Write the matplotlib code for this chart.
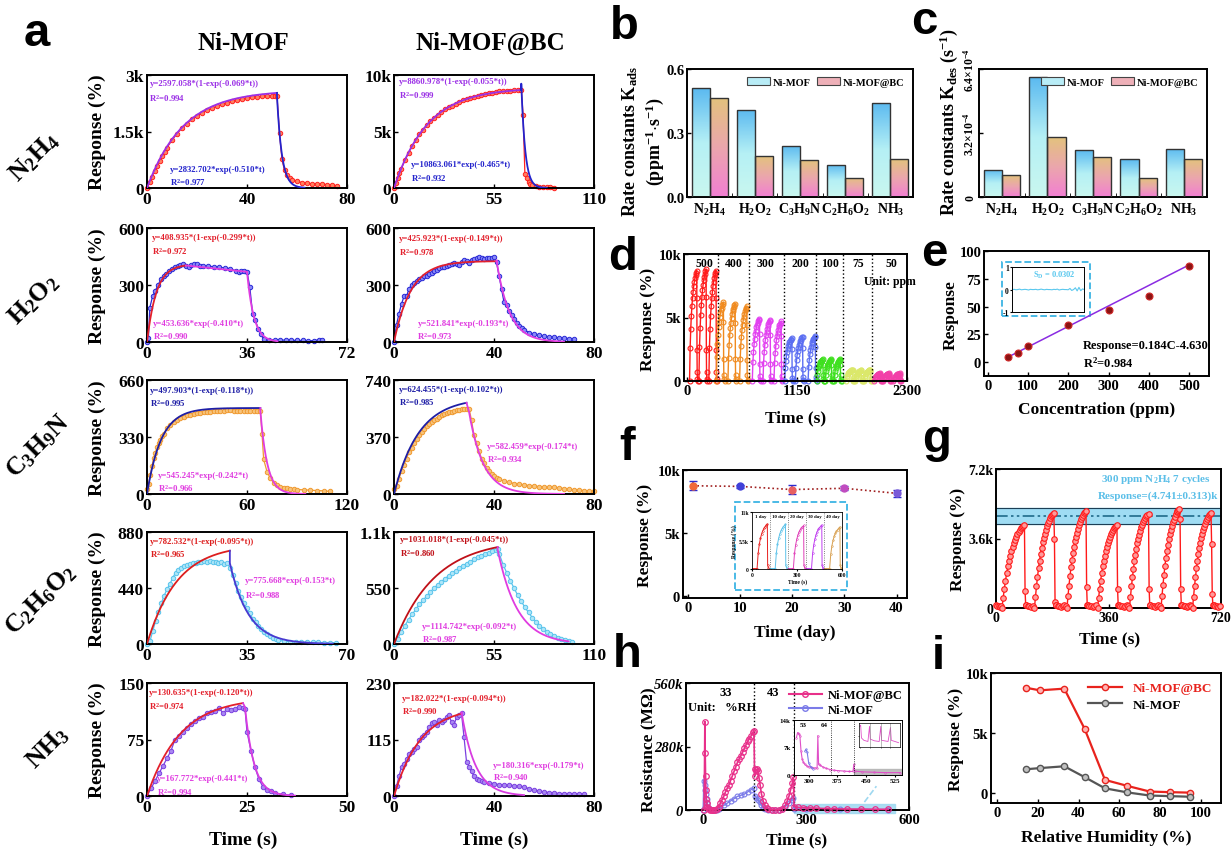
import numpy as np
import matplotlib.pyplot as plt
from matplotlib.patches import Rectangle, Patch
from matplotlib.lines import Line2D
from matplotlib.colors import LinearSegmentedColormap

plt.rcParams['font.family'] = ['Liberation Serif', 'DejaVu Serif']
plt.rcParams['font.weight'] = 'bold'
plt.rcParams['axes.labelweight'] = 'bold'
plt.rcParams['mathtext.fontset'] = 'custom'
plt.rcParams['mathtext.rm'] = 'Liberation Serif:bold'
plt.rcParams['mathtext.it'] = 'Liberation Serif:italic:bold'
plt.rcParams['mathtext.bf'] = 'Liberation Serif:bold'
plt.rcParams['axes.linewidth'] = 1.4

# ---------------- data: panel a (response/recovery kinetics) ----------------
n2h4_mof = [(0,0),(1,150),(2,300),(3,440),(4,590),(5,720),(6,850),(7,960),(8,1070),(10,1270),(12,1440),(14,1590),
            (16,1710),(18,1820),(20,1910),(22,1990),(24,2060),(26,2120),(28,2170),(30,2220),(32,2260),(34,2300),
            (36,2330),(38,2360),(40,2390),(42,2410),(44,2420),(46,2430),(48,2440),(50,2440),(51,2430),(52,2430),
            (53,1450),(54,760),(55,470),(56,340),(57,270),(58,220),(60,175),(62,145),(64,125),(66,112),(68,105),
            (70,98),(72,90),(74,80),(76,60)]
n2h4_bc = [(0,0),(1,450),(2,900),(3,1300),(4,1700),(6,2450),(8,3100),(10,3700),(12,4250),(14,4750),(16,5150),
           (18,5550),(20,5900),(22,6200),(24,6500),(26,6750),(28,6950),(30,7150),(32,7300),(34,7450),(36,7600),
           (38,7750),(40,7850),(42,7950),(44,8050),(46,8150),(48,8250),(50,8300),(52,8400),(54,8450),(56,8500),
           (58,8550),(60,8580),(62,8600),(64,8620),(66,8650),(68,8660),(70,8670),(71,6500),(72,1200),(73,900),
           (74,500),(75,350),(76,260),(78,180),(80,130),(82,100),(84,80),(86,60),(88,40)]
h2o2_mof = [(0,0),(0.5,20),(1,180),(2,240),(3,270),(4,300),(5,330),(6,345),(7,360),(8,375),(9,385),(10,395),
            (11,400),(12,405),(13,408),(14,400),(15,395),(16,405),(17,410),(18,408),(19,402),(20,400),(22,398),
            (24,397),(26,393),(28,390),(30,385),(32,375),(33,368),(34,372),(35,375),(36,370),(37,290),(38,150),
            (39,115),(40,70),(41,40),(42,15),(44,12),(46,12),(48,10),(50,10),(52,9),(54,8),(56,8),(58,7),(60,7),
            (62,12),(63,8)]
h2o2_bc = [(0,0),(1,90),(2,150),(3,200),(4,240),(5,240),(6,280),(7,300),(8,310),(9,320),(10,330),(11,335),
           (12,345),(13,350),(14,360),(15,365),(16,375),(17,380),(18,390),(19,395),(20,395),(21,400),(22,405),
           (23,410),(24,415),(25,410),(26,405),(27,420),(28,430),(29,425),(30,415),(31,430),(32,435),(33,440),
           (34,445),(35,440),(36,438),(37,440),(38,442),(39,440),(40,450),(41,420),(42,350),(43,280),(44,210),
           (45,195),(46,165),(47,140),(48,120),(49,100),(50,85),(51,75),(52,65),(54,50),(56,40),(58,35),(60,30),
           (62,28),(64,25),(66,22),(68,20),(70,18),(72,18)]
c3h9n_mof = [(0,30),(1,60),(2,110),(3,160),(4,210),(5,240),(6,270),(7,295),(8,315),(9,335),(10,350),(12,380),
             (14,400),(16,415),(18,430),(20,440),(22,448),(24,455),(26,460),(28,465),(30,468),(32,470),(34,472),
             (36,474),(38,476),(40,478),(42,480),(44,482),(46,483),(48,484),(50,484),(52,483),(54,483),(56,482),
             (58,482),(60,481),(62,480),(64,480),(66,478),(68,478),(69,350),(70,200),(72,130),(74,90),(76,65),
             (78,50),(80,42),(82,36),(84,32),(86,30),(88,28),(90,26),(94,24),(98,22),(102,20),(106,18),(110,15)]
c3h9n_bc = [(0,30),(1,50),(2,100),(3,150),(4,190),(5,230),(6,270),(7,300),(8,330),(9,360),(10,380),(11,400),
            (12,420),(13,440),(14,455),(15,470),(16,480),(17,490),(18,500),(19,510),(20,520),(21,525),(22,530),
            (23,535),(24,540),(25,545),(26,548),(27,550),(28,552),(29,555),(30,555),(31,480),(32,380),(33,330),
            (34,280),(35,230),(36,200),(37,170),(38,150),(39,130),(40,115),(41,105),(42,95),(44,85),(46,75),
            (48,68),(50,62),(52,58),(54,55),(56,52),(58,48),(60,45),(62,43),(64,45),(66,40),(68,35),(70,30),
            (72,28),(74,25),(76,22),(78,20),(80,18)]
c2h6o2_mof = [(0,0),(1,20),(2,100),(3,180),(4,250),(5,320),(6,380),(7,430),(8,470),(9,520),(10,560),(11,580),
              (12,600),(13,610),(14,620),(15,630),(16,635),(17,640),(18,645),(19,648),(20,650),(21,648),(22,650),
              (23,645),(24,648),(25,640),(26,645),(27,630),(28,640),(29,600),(30,540),(31,480),(32,420),(33,370),
              (34,320),(35,280),(36,240),(37,200),(38,170),(39,140),(40,115),(41,95),(42,75),(43,60),(44,48),
              (45,38),(46,30),(48,22),(50,18),(52,15),(54,14),(56,13),(58,12),(60,12),(62,11),(64,11),(66,10)]
c2h6o2_bc = [(0,0),(2,50),(4,120),(6,180),(8,240),(10,290),(12,340),(14,390),(16,430),(18,470),(20,510),(22,550),
             (24,580),(26,610),(28,640),(30,670),(32,700),(34,720),(36,745),(38,770),(40,790),(42,810),(44,830),
             (46,850),(48,865),(50,880),(52,895),(54,910),(56,920),(57,930),(58,880),(60,780),(62,700),(64,620),
             (66,550),(68,480),(70,420),(72,360),(74,310),(76,260),(78,220),(80,180),(82,150),(84,120),(86,95),
             (88,75),(90,60),(92,45),(94,35),(96,28),(98,22)]
nh3_mof = [(0,0),(1,10),(2,20),(3,30),(4,40),(5,50),(6,60),(7,75),(8,80),(9,85),(10,90),(11,95),(12,100),(13,103),
           (14,105),(15,110),(16,112),(17,113),(18,117),(19,110),(20,115),(21,114),(22,116),(23,118),(24,117),
           (24.5,116),(25,85),(26,60),(27,38),(28,22),(29,12),(30,8),(31,6),(32,4),(34,2),(36,1)]
nh3_bc = [(0,0),(1,20),(2,40),(3,60),(4,65),(5,75),(6,85),(7,90),(8,95),(9,100),(10,115),(11,120),(12,125),
          (13,130),(14,140),(15,148),(16,150),(17,145),(18,155),(19,150),(20,155),(21,160),(22,165),(23,150),
          (24,145),(25,160),(26,165),(27,168),(28,120),(29,70),(30,60),(31,50),(32,40),(33,35),(34,32),(35,30),
          (36,28),(38,27),(40,25),(42,23),(44,22),(46,22),(48,21),(50,20),(52,18),(54,15),(56,12),(58,10),
          (60,8),(62,7),(64,6),(66,5),(68,5),(70,5),(72,5),(74,4),(76,4)]

# fit parameters printed on the chart: rise (A, k, t_end), decay (B, k, t_start, t_stop, t_shift), R2
a_rise = [(2597.058, 0.069, 52), (8860.978, 0.055, 70), (408.935, 0.299, 14), (425.923, 0.149, 41),
          (497.903, 0.118, 68), (624.455, 0.102, 29), (782.532, 0.095, 29), (1031.018, 0.045, 57),
          (130.635, 0.120, 24), (182.022, 0.094, 27)]
a_decay = [(2832.702, 0.510, 52, 63, 51.7), (10863.061, 0.465, 70, 84, 69.65), (453.636, 0.410, 36, 47, 35.5),
           (521.841, 0.193, 41, 68, 40), (545.245, 0.242, 68, 95, 67.5), (582.459, 0.174, 30, 68, 29.5),
           (775.668, 0.153, 29, 65, 27.7), (1114.742, 0.092, 57, 96, 55), (167.772, 0.441, 24.5, 37, 23.7),
           (180.316, 0.179, 27, 52, 26.7)]
a_r2_rise = ['0.994', '0.999', '0.972', '0.978', '0.995', '0.985', '0.965', '0.860', '0.974', '0.990']
a_r2_decay = ['0.977', '0.932', '0.990', '0.973', '0.966', '0.934', '0.988', '0.987', '0.994', '0.940']
a_xmax = [80, 110, 72, 80, 120, 80, 70, 110, 50, 80]
a_ymax = [3000, 10000, 600, 600, 660, 740, 880, 1100, 150, 230]
a_data = [n2h4_mof, n2h4_bc, h2o2_mof, h2o2_bc, c3h9n_mof, c3h9n_bc, c2h6o2_mof, c2h6o2_bc, nh3_mof, nh3_bc]
a_gas = [r'$\mathrm{N_2H_4}$', r'$\mathrm{H_2O_2}$', r'$\mathrm{C_3H_9N}$', r'$\mathrm{C_2H_6O_2}$', r'$\mathrm{NH_3}$']

# ---------------- data: panels b, c ----------------
kin_labels = [r'$\mathrm{N_2H_4}$', r'$\mathrm{H_2O_2}$', r'$\mathrm{C_3H_9N}$', r'$\mathrm{C_2H_6O_2}$', r'$\mathrm{NH_3}$']
kads_mof = [0.510, 0.408, 0.241, 0.151, 0.441]
kads_bc = [0.464, 0.190, 0.172, 0.090, 0.177]
kdes_mof = [1.37e-4, 5.99e-4, 2.35e-4, 1.89e-4, 2.41e-4]
kdes_bc = [1.09e-4, 2.98e-4, 2.02e-4, 0.93e-4, 1.89e-4]

# ---------------- data: panel d ----------------
d_conc = ['500', '400', '300', '200', '100', '75', '50']
d_conc_t = [178, 482, 821, 1181, 1489, 1793, 2132]
d_bounds = [325, 647, 1007, 1349, 1625, 1933]
d_peak_t = [[98, 196, 300], [377, 500, 622], [755, 867, 982], [1094, 1206, 1339],
            [1419, 1507, 1601], [1730, 1821, 1915], [2020, 2115, 2223]]
d_peak_v = [[8700, 8800, 8700], [6200, 6100, 5900], [4900, 4800, 4700], [3400, 3500, 3550],
            [1700, 1700, 1700], [900, 850, 900], [600, 600, 600]]
d_rise = [75, 75, 75, 75, 65, 65, 65]
d_shape = [0.0, 0.3, 0.47, 0.59, 0.68, 0.75, 0.81, 0.86, 0.9, 0.93, 0.96, 0.98, 1.0]
d_drop = [0.75, 0.28, 0.08, 0.02, 0.0]
d_drop_dt = [1.5, 3, 5, 8, 14]
d_colors = ['#ff1a1a', '#f08a1e', '#e23ff0', '#5b6ef2', '#3fe01f', '#dbe86a', '#f23fa8']

# ---------------- data: panel e ----------------
e_conc = [50, 75, 100, 200, 300, 400, 500]
e_resp = [4.5, 7.8, 14.7, 33.3, 47.0, 59.8, 86.8]
e_noise = [0.0, 0.01, -0.01, 0.0, 0.02, -0.01, 0.0, 0.01, 0.0, -0.02, 0.01, 0.0, 0.0, 0.01, -0.01, 0.0,
           0.02, 0.0, -0.01, 0.01, 0.0, 0.0, -0.01, 0.01, 0.0, 0.02, -0.02, 0.0, 0.01, 0.0, 0.0, -0.01,
           0.05, -0.04, 0.0, 0.08, -0.06, 0.10, -0.05, 0.03, 0.0]

# ---------------- data: panel f ----------------
f_days = [1, 10, 20, 30, 40]
f_resp = [8750, 8700, 8450, 8550, 8150]
f_err = [350, 100, 350, 150, 300]
f_mcolors = ['#f06a3a', '#4040d8', '#e86060', '#c04cc0', '#7a5ad8']
f_in_labels = ['1 day', '10 day', '20 day', '30 day', '40 day']
f_in_colors = ['#e8201e', '#5ec3ea', '#e03fb8', '#c03ef0', '#d8a050']
f_shape = [0.0, 0.35, 0.55, 0.68, 0.78, 0.85, 0.9, 0.94, 0.97, 1.0]

# ---------------- data: panel g ----------------
g_start = [19, 123, 227, 325, 427, 528, 629]
g_peak_t = [91, 185, 288, 387, 488, 587, 688]
g_peak = [4300, 4920, 5000, 4300, 4850, 5150, 4900]
g_after = [[900, 150], [3600, 300, 150], [1100, 150], [1000, 150], [1000, 150], [4600, 1000, 150], [3300, 700, 150]]
g_base = [150, 80, 120, 60, 100, 140, 90]
g_shape = [0.0, 0.12, 0.23, 0.33, 0.42, 0.5, 0.57, 0.63, 0.69, 0.74, 0.78, 0.82, 0.86, 0.89, 0.92, 0.945,
           0.965, 0.98, 0.99, 1.0]
g_mean, g_lo, g_hi = 4741, 4360, 5200

# ---------------- data: panel h ----------------
h_bc = [(3,0),(5,390000),(6,250000),(7,150000),(8,90000),(9,50000),(10,30000),(12,15000),(14,8000),(17,4000),
        (20,2000),(25,1000),(30,1000),(35,2000),(40,5000),(45,15000),(50,30000),(55,45000),(60,60000),(65,80000),
        (70,95000),(75,110000),(80,130000),(85,150000),(90,170000),(95,190000),(100,210000),(105,225000),
        (110,240000),(115,255000),(120,272000),(125,288000),(130,303000),(135,315000),(140,328000),(145,342000),
        (148,350000),(150,150000),(152,180000),(155,175000),(158,180000),(160,170000),(163,140000),(166,110000),
        (170,70000),(175,40000),(180,20000),(185,10000),(190,5000),(200,2000),(210,1000),(220,2000),(230,5000),
        (240,20000),(245,40000),(250,60000),(255,90000),(260,120000),(263,145000),(265,15000),(275,12000),
        (290,10000),(310,9000),(330,8000),(360,6000),(380,5000),(420,4000),(460,4000),(500,3000),(540,3000)]
h_mof = [(0,0),(2,130000),(4,110000),(6,90000),(8,70000),(10,50000),(12,30000),(15,15000),(20,5000),(25,2000),
         (30,1000),(35,1000),(40,2000),(45,5000),(50,10000),(60,20000),(70,30000),(80,40000),(90,50000),
         (100,60000),(110,65000),(120,70000),(130,80000),(140,90000),(148,95000),(150,60000),(155,55000),
         (160,45000),(165,35000),(170,20000),(175,10000),(180,5000),(190,2000),(200,1000),(210,1000),(220,2000),
         (230,5000),(240,15000),(250,30000),(258,45000),(263,55000),(265,5000),(300,4000),(400,3000),(540,2000)]
h_rh = ['33', '43']
h_in_bc = [(268,9500),(271,10800),(274,10500),(277,10000),(280,6000),(283,4000),(286,3200),(290,2600),(295,2200),
           (300,2000),(305,1900),(310,1800),(316,1700),(322,1600),(324,10000),(326,2600),(330,2400),(338,1900),
           (346,1600),(356,1300),(366,1100),(378,1000),(392,900),(405,800),(416,800),(418,2600),(420,900),
           (440,700),(470,600),(500,500),(540,500)]
h_in_mof = [(290,6000),(293,6500),(296,5800),(300,3000),(305,2000),(312,1500)]
h_mini = [(0,0.9),(1,0.95),(2,0.4),(5,0.3),(10,0.25),(12,0.9),(13,0.35),(18,0.28),(24,0.25),(26,0.9),
          (27,0.3),(35,0.25),(38,0.85),(39,0.3),(48,0.2)]

# ---------------- data: panel i ----------------
i_rh = [14, 21, 33, 43, 53, 64, 75, 85, 95]
i_bc = [8780, 8560, 8700, 5360, 1120, 620, 150, 100, 60]
i_mof = [2000, 2100, 2250, 1350, 420, 80, -180, -230, -280]

# ---------------- helpers ----------------
W, H = 1231, 853
fig = plt.figure(figsize=(W / 100, H / 100), dpi=100)


def add_ax(l, t, r, b):
    return fig.add_axes([l / W, 1 - b / H, (r - l) / W, (b - t) / H])


def ftext(x, y, s, **kw):
    kw.setdefault('ha', 'center')
    kw.setdefault('va', 'center')
    fig.text(x / W, 1 - y / H, s, **kw)


def ktick(v):
    if v == 0:
        return '0'
    if abs(v) >= 1000:
        return f'{v / 1000:g}k'
    return f'{v:g}'


def set_ticks(ax, xt, yt, size=10.5, xl=None, yl=None):
    ax.set_xticks(xt)
    ax.set_yticks(yt)
    ax.set_xticklabels(xl if xl is not None else [ktick(v) for v in xt], fontsize=size)
    ax.set_yticklabels(yl if yl is not None else [ktick(v) for v in yt], fontsize=size)
    ax.tick_params(direction='in', length=3, width=1, pad=2)


def letter(x, y, s):
    ftext(x, y, s, family='Liberation Sans', weight='bold', fontsize=34)


# ---------------- panel a ----------------
letter(37, 34, 'a')
ftext(243, 43, 'Ni-MOF', fontsize=18)
ftext(490, 43, 'Ni-MOF@BC', fontsize=18)

row_top = [76, 229, 381, 533, 684]
row_bot = [189, 343, 495, 645, 797]
col_l = [147, 394]
col_r = [347, 594]
row_lab = [(34, 157), (34, 300), (38, 447), (41, 600), (48, 748)]

row_cols = [('#ff2020', '#ff8060', '#9b30e6', '#2323cc', '#9b30e6', '#2323cc'),
            ('#2a2ad6', '#8a8af8', '#e3202c', '#e03ce0', '#e3202c', '#e03ce0'),
            ('#f09a30', '#f8c47c', '#1e1ea6', '#e03ce0', '#1e1ea6', '#e03ce0'),
            ('#58c4ec', '#aee6f8', '#dd1e1e', '#4a38d0', '#dd1e1e', '#e03ce0'),
            ('#7b40e0', '#a888f2', '#e3202c', '#d83ce0', '#e3202c', '#e03ce0')]
# text positions (rise x, rise y, rise R2 y, decay x, decay y, decay R2 y) in axes fraction
a_txt = [(0.012, 0.926, 0.80, 0.115, 0.165, 0.06), (0.024, 0.944, 0.83, 0.083, 0.21, 0.09),
         (0.026, 0.918, 0.80, 0.03, 0.17, 0.053), (0.024, 0.912, 0.794, 0.117, 0.17, 0.059),
         (0.016, 0.913, 0.80, 0.055, 0.17, 0.06), (0.024, 0.92, 0.81, 0.463, 0.42, 0.31),
         (0.016, 0.92, 0.81, 0.49, 0.57, 0.445), (0.028, 0.935, 0.82, 0.139, 0.16, 0.05),
         (0.01, 0.92, 0.80, 0.05, 0.16, 0.04), (0.04, 0.865, 0.76, 0.495, 0.276, 0.17)]

for r in range(5):
    gx, gy = row_lab[r]
    ftext(gx, gy, a_gas[r], fontsize=18.5, rotation=45, rotation_mode='anchor')
    ftext(97, (row_top[r] + row_bot[r]) / 2, 'Response (%)', fontsize=14, rotation=90)
    for c in range(2):
        i = 2 * r + c
        ax = add_ax(col_l[c], row_top[r], col_r[c], row_bot[r])
        dc, df, rc, dlc, rtc, dtc = row_cols[r]
        if i == 7:
            rc = rtc = '#c01018'
            dlc = '#e03ce0'
        t, y = np.array(a_data[i]).T
        ax.plot(t, y, '-', color=dc, lw=0.9, marker='o', ms=3.2, mfc=df, mec=dc, mew=0.7, zorder=2, clip_on=False)
        A, k, te = a_rise[i]
        tr = np.linspace(0, te, 200)
        ax.plot(tr, A * (1 - np.exp(-k * tr)), color=rc, lw=1.3, zorder=3)
        B, kd, td0, td1, tsh = a_decay[i]
        td = np.linspace(td0, td1, 200)
        yd = B * np.exp(-kd * (td - tsh))
        ax.plot(np.r_[te, td], np.r_[A * (1 - np.exp(-k * te)), yd], color=dlc, lw=1.3, zorder=3)
        ax.set_xlim(0, a_xmax[i])
        ax.set_ylim(0, a_ymax[i])
        set_ticks(ax, [0, a_xmax[i] / 2, a_xmax[i]], [0, a_ymax[i] / 2, a_ymax[i]], size=12.5)
        rx, ry, r2y, dx, dy, d2y = a_txt[i]
        ax.text(rx, ry, f'y={A:.3f}*(1-exp(-{k:.3f}*t))', transform=ax.transAxes, color=rtc,
                fontsize=6.3, va='center')
        ax.text(rx, r2y, 'R$^2$=' + a_r2_rise[i], transform=ax.transAxes, color=rtc, fontsize=6.3, va='center')
        ax.text(dx, dy, f'y={B:.3f}*exp(-{kd:.3f}*t)', transform=ax.transAxes, color=dtc,
                fontsize=6.3, va='center')
        ax.text(dx, d2y, 'R$^2$=' + a_r2_decay[i], transform=ax.transAxes, color=dtc, fontsize=6.3, va='center')
ftext(243, 840, 'Time (s)', fontsize=14)
ftext(494, 840, 'Time (s)', fontsize=14)


# ---------------- panels b, c ----------------
def grad_bar(ax, x, w, h, colors):
    rect = Rectangle((x - w / 2, 0), w, h, facecolor='none', edgecolor='#333333', lw=1.0, zorder=3)
    ax.add_patch(rect)
    cmap = LinearSegmentedColormap.from_list('g', colors)
    im = ax.imshow(np.linspace(0, 1, 64).reshape(-1, 1), extent=(x - w / 2, x + w / 2, 0, h),
                   origin='lower', cmap=cmap, aspect='auto', zorder=2)
    im.set_clip_path(rect)


mof_grad = ['#c9f7ef', '#b5f0f5', '#5cbaf0']
bc_grad = ['#f27fd2', '#eba6ad', '#e3c27e']


def rate_panel(ax, mof, bc, ymax):
    for j in range(5):
        grad_bar(ax, j - 0.2, 0.4, mof[j], mof_grad)
        grad_bar(ax, j + 0.2, 0.4, bc[j], bc_grad)
    ax.set_xlim(-0.5, 4.5)
    ax.set_ylim(0, ymax)
    ax.set_xticks(range(5))
    ax.set_xticklabels(kin_labels, fontsize=10)
    ax.set_xticks([0.5, 1.5, 2.5, 3.5], minor=True)
    ax.tick_params(axis='x', which='major', length=0, pad=3)
    ax.tick_params(axis='x', which='minor', direction='in', length=3)
    ax.tick_params(axis='y', direction='in', length=3, width=1, pad=2)
    hl = [Patch(facecolor='#b8ecf6', edgecolor='#444444', lw=0.8, label='Ni-MOF'),
          Patch(facecolor='#eeb0b8', edgecolor='#444444', lw=0.8, label='Ni-MOF@BC')]
    ax.legend(handles=hl, loc='upper right', ncol=2, fontsize=7.5, frameon=False, handlelength=2.2,
              handleheight=0.8, columnspacing=0.6, handletextpad=0.3, borderaxespad=0.4)


letter(624, 27, 'b')
axb = add_ax(687, 70, 913, 198)
rate_panel(axb, kads_mof, kads_bc, 0.6)
axb.set_yticks([0, 0.3, 0.6])
axb.set_yticklabels(['0.0', '0.3', '0.6'], fontsize=10.5)
ftext(630, 141, r'Rate constants K$_\mathrm{ads}$', fontsize=13, rotation=90)
ftext(655, 142, r'(ppm$^{-1}$$\cdot$s$^{-1}$)', fontsize=13, rotation=90)

letter(924, 22, 'c')
axc = add_ax(979, 70, 1207, 198)
rate_panel(axc, kdes_mof, kdes_bc, 6.4e-4)
axc.set_yticks([0, 3.2e-4, 6.4e-4])
axc.set_yticklabels(['0', r'3.2$\times$10$^{-4}$', r'6.4$\times$10$^{-4}$'], fontsize=8.5, rotation=90, va='center')
ftext(949, 122, r'Rate constants K$_\mathrm{des}$ (s$^{-1}$)', fontsize=13, rotation=90)

# ---------------- panel d ----------------
letter(623, 258, 'd')
axd = add_ax(684, 255, 907, 382)
for g in range(7):
    tt, yy = [], []
    for tp, pv in zip(d_peak_t[g], d_peak_v[g]):
        t0 = tp - d_rise[g]
        tt += list(t0 + d_rise[g] * np.linspace(0, 1, len(d_shape)))
        yy += [pv * v for v in d_shape]
        tt += [tp + dt for dt in d_drop_dt]
        yy += [pv * v for v in d_drop]
    axd.plot(tt, yy, '-', color=d_colors[g], lw=1.0, marker='o', ms=3.5, mfc='none', mec=d_colors[g],
             mew=0.8, clip_on=False)
for b in d_bounds:
    axd.axvline(b, color='k', ls=':', lw=1.0)
for s, x in zip(d_conc, d_conc_t):
    axd.text(x, 9300, s, ha='center', va='center', fontsize=8.5)
axd.text(2120, 7900, 'Unit: ppm', ha='center', va='center', fontsize=8.5)
axd.set_xlim(-35, 2300)
axd.set_ylim(0, 10000)
set_ticks(axd, [0, 1150, 2300], [0, 5000, 10000], xl=['0', '1150', '2300'])
ftext(648, 319, 'Response (%)', fontsize=12.5, rotation=90)
ftext(796, 418, 'Time (s)', fontsize=12.5)

# ---------------- panel e ----------------
letter(934, 254, 'e')
axe = add_ax(984, 252, 1209, 377)
ce = np.array([e_conc[0], e_conc[-1]])
axe.plot(ce, 0.184 * ce - 4.630, color='#8a2be2', lw=1.1, zorder=2)
axe.plot(e_conc, e_resp, 'o', ms=5, mfc='#8b1414', mec='#d02828', mew=0.8, zorder=3)
axe.set_xlim(-10, 550)
axe.set_ylim(-12.5, 100)
set_ticks(axe, [0, 100, 200, 300, 400, 500], [0, 25, 50, 75, 100])
axe.text(0.44, 0.25, 'Response=0.184C-4.630', transform=axe.transAxes, fontsize=9, va='center')
axe.text(0.44, 0.113, 'R$^2$=0.984', transform=axe.transAxes, fontsize=9, va='center')
axe.add_patch(Rectangle((0.079, 0.478), 0.391, 0.435, transform=axe.transAxes, fill=False, ls='--',
                        ec='#3cb4e4', lw=1.3))
ine = axe.inset_axes([0.126, 0.513, 0.32, 0.357])
ine.plot(range(len(e_noise)), e_noise, color='#5bc8ee', lw=0.8)
ine.set_xlim(0, len(e_noise) - 1)
ine.set_ylim(-1, 1)
ine.set_xticks([])
ine.set_yticks([-1, 0, 1])
ine.set_yticklabels(['-1', '0', '1'], fontsize=5.5)
ine.tick_params(length=1.5, pad=1)
for sp in ine.spines.values():
    sp.set_linewidth(0.7)
ine.text(0.28, 0.84, r'S$_\mathrm{D}$ = 0.0302', transform=ine.transAxes, fontsize=6, color='#5bc8ee', va='center')
ftext(951, 315, 'Response', fontsize=12.5, rotation=90)
ftext(1097, 410, 'Concentration (ppm)', fontsize=12.5)

# ---------------- panel f ----------------
letter(627, 448, 'f')
axf = add_ax(683, 471, 907, 599)
axf.plot(f_days, f_resp, ':', color='#a02020', lw=1.2, zorder=2)
axf.errorbar(f_days, f_resp, yerr=f_err, fmt='none', ecolor='#2b2bd0', elinewidth=1.2, capsize=3, zorder=3)
for d, v, c in zip(f_days, f_resp, f_mcolors):
    axf.plot(d, v, 'o', ms=5, mfc=c, mec=c, zorder=4)
axf.set_xlim(-0.9, 42)
axf.set_ylim(-150, 10000)
set_ticks(axf, [0, 10, 20, 30, 40], [0, 5000, 10000])
axf.add_patch(Rectangle((0.23, 0.06), 0.503, 0.693, transform=axf.transAxes, fill=False, ls='--',
                        ec='#3cb4e4', lw=1.3))
inf = axf.inset_axes([0.307, 0.23, 0.405, 0.438])
for k in range(5):
    s0 = 120 * k
    tt = [s0 + 2, s0 + 33] + list(s0 + 35 + 68 * np.linspace(0, 1, len(f_shape))) + [s0 + 105, s0 + 110, s0 + 118]
    yy = [0, 0] + [f_resp[k] * v for v in f_shape] + [700, 100, 0]
    inf.plot(tt, yy, '-', color=f_in_colors[k], lw=0.7, marker='o', ms=1.2, mfc='none', mec=f_in_colors[k], mew=0.4)
    inf.text(s0 + 60, 10300, f_in_labels[k], ha='center', va='center', fontsize=3.5)
    if k > 0:
        inf.axvline(s0, color='#555555', ls=':', lw=0.6)
inf.set_xlim(0, 600)
inf.set_ylim(0, 11000)
inf.set_xticks([0, 300, 600])
inf.set_xticklabels(['0', '300', '600'], fontsize=4)
inf.set_yticks([0, 5500, 11000])
inf.set_yticklabels(['0', '5.5k', '11k'], fontsize=4)
inf.tick_params(length=1.2, pad=1)
inf.set_xlabel('Time (s)', fontsize=4, labelpad=1)
inf.set_ylabel('Response (%)', fontsize=4, labelpad=1)
for sp in inf.spines.values():
    sp.set_linewidth(0.6)
ftext(645, 535, 'Response (%)', fontsize=12.5, rotation=90)
ftext(795, 633, 'Time (day)', fontsize=12.5)

# ---------------- panel g ----------------
letter(937, 440, 'g')
axg = add_ax(996, 470, 1221, 609)
axg.axhspan(g_lo, g_hi, color='#8ed6f2', alpha=0.85, zorder=0)
axg.axhline(g_lo, color='#1d3f55', lw=0.8, zorder=1)
axg.axhline(g_hi, color='#1d3f55', lw=0.8, zorder=1)
axg.axhline(g_mean, color='#1f6a8a', lw=1.2, ls=(0, (7, 2, 1.5, 2, 1.5, 2)), zorder=1)
gt, gy = [], []
nxt = g_start[1:] + [722]
for c in range(7):
    if c == 0:
        for j, tb in enumerate(range(0, g_start[0], 4)):
            gt.append(tb)
            gy.append(g_base[j % 7])
    gt += list(g_start[c] + (g_peak_t[c] - g_start[c]) * np.linspace(0, 1, len(g_shape)))
    gy += [g_peak[c] * v for v in g_shape]
    ta = g_peak_t[c] + 2
    for v in g_after[c]:
        gt.append(ta)
        gy.append(v)
        ta += 2
    j = 0
    while ta < nxt[c] - 1:
        gt.append(ta)
        gy.append(g_base[j % 7])
        ta += 5
        j += 1
axg.plot(gt, gy, '-', color='#ff1a1a', lw=1.0, marker='o', ms=4, mfc='#ff9a9a', mec='#ff1a1a', mew=0.8,
         zorder=3, clip_on=False)
axg.set_xlim(0, 720)
axg.set_ylim(0, 7200)
set_ticks(axg, [0, 360, 720], [0, 3600, 7200], size=10)
axg.text(0.71, 0.93, r'300 ppm N$_2$H$_4$ 7 cycles', transform=axg.transAxes, ha='center', va='center',
         fontsize=8, color='#5bbfe8')
axg.text(0.72, 0.81, 'Response=(4.741±0.313)k', transform=axg.transAxes, ha='center', va='center',
         fontsize=8, color='#5bbfe8')
ftext(958, 539, 'Response (%)', fontsize=12.5, rotation=90)
ftext(1110, 639, 'Time (s)', fontsize=12.5)

# ---------------- panel h ----------------
letter(627, 655, 'h')
axh = add_ax(686, 684, 909, 811)
axh.add_patch(Rectangle((265, -12000), 295, 37000, color='#9ed8f0', alpha=0.85, clip_on=False, zorder=1))
axh.plot([470, 505], [35000, 105000], ls='--', color='#9ed8f0', lw=1.2, zorder=1)
t, y = np.array(h_mof).T
axh.plot(t, y, '-', color='#7b7be8', lw=1.0, marker='o', ms=3.5, mfc='none', mec='#7b7be8', mew=0.8,
         zorder=2, clip_on=False)
t, y = np.array(h_bc).T
axh.plot(t, y, '-', color='#e8308a', lw=1.2, marker='o', ms=4, mfc='none', mec='#e8308a', mew=0.9,
         zorder=3, clip_on=False)
axh.axvline(148, color='k', ls=':', lw=1.0)
axh.axvline(264, color='k', ls=':', lw=1.0)
axh.text(67, 0.93 * 560000, h_rh[0], ha='center', va='center', fontsize=9)
axh.text(203, 0.93 * 560000, h_rh[1], ha='center', va='center', fontsize=9)
axh.text(-45, 0.81 * 560000, 'Unit:   %RH', ha='left', va='center', fontsize=9)
axh.set_xlim(-50, 600)
axh.set_ylim(0, 560000)
set_ticks(axh, [0, 300, 600], [0, 280000, 560000])
for lab in axh.get_yticklabels():
    lab.set_fontstyle('italic')
hh = [Line2D([], [], color='#e8308a', lw=1.5, marker='o', ms=4, mfc='none', mec='#e8308a'),
      Line2D([], [], color='#7b7be8', lw=1.5, marker='o', ms=4, mfc='none', mec='#7b7be8')]
axh.legend(hh, ['Ni-MOF@BC', 'Ni-MOF'], loc='upper right', fontsize=9, frameon=False, handlelength=2.6,
           borderaxespad=0.1, labelspacing=0.2, handletextpad=0.5)
inh = axh.inset_axes([0.485, 0.279, 0.485, 0.429])
inh.add_patch(Rectangle((418, 0), 130, 1500, color='#b0b0b0', alpha=0.8, zorder=1))
t, y = np.array(h_in_bc).T
inh.plot(t, y, '-', color='#e050c8', lw=0.8, marker='o', ms=1.2, mfc='none', mec='#e050c8', mew=0.4, zorder=2)
t, y = np.array(h_in_mof).T
inh.plot(t, y, '-', color='#7b7be8', lw=0.8, marker='o', ms=1.2, mfc='none', mec='#7b7be8', mew=0.4, zorder=2)
inh.axvline(358, color='k', ls=':', lw=0.6)
inh.axvline(418, color='k', ls=':', lw=0.6)
inh.text(285, 12800, '53', fontsize=5, ha='center', va='center')
inh.text(340, 12800, '64', fontsize=5, ha='center', va='center')
inh.set_xlim(262, 545)
inh.set_ylim(0, 14000)
inh.set_xticks([300, 375, 450, 525])
inh.set_xticklabels(['300', '375', '450', '525'], fontsize=5)
inh.set_yticks([0, 7000, 14000])
inh.set_yticklabels(['0', '7k', '14k'], fontsize=5)
inh.tick_params(length=1.5, pad=1)
for sp in inh.spines.values():
    sp.set_linewidth(0.7)
mini = inh.inset_axes([0.6, 0.5, 0.38, 0.45])
t, y = np.array(h_mini).T
mini.plot(t, y, '-', color='#e050c8', lw=0.6)
for xv in [12, 26, 38]:
    mini.axvline(xv, color='#888888', lw=0.4)
mini.set_xlim(-1, 50)
mini.set_ylim(0, 1.05)
mini.set_xticks([0, 12, 26, 38])
mini.set_xticklabels([])
mini.set_yticks([0.5])
mini.set_yticklabels([])
mini.tick_params(length=1, width=0.4)
for sp in mini.spines.values():
    sp.set_linewidth(0.5)
ftext(648, 750, 'Resistance (MΩ)', fontsize=12.5, rotation=90)
ftext(797, 840, 'Time (s)', fontsize=12.5)

# ---------------- panel i ----------------
letter(938, 657, 'i')
axi = add_ax(991, 674, 1221, 804)
axi.plot(i_rh, i_bc, '-', color='#e8231d', lw=1.6, marker='o', ms=4.5, mfc='#ffb3b3', mec='#e8231d', mew=1,
         label='Ni-MOF@BC')
axi.plot(i_rh, i_mof, '-', color='#555555', lw=1.6, marker='o', ms=4.5, mfc='#c0c0c0', mec='#555555', mew=1,
         label='Ni-MOF')
axi.set_xlim(-3, 110)
axi.set_ylim(-800, 10000)
set_ticks(axi, [0, 20, 40, 60, 80, 100], [0, 5000, 10000])
leg = axi.legend(loc='upper right', fontsize=9.5, frameon=False, handlelength=2.6, borderaxespad=0.3,
                 labelspacing=0.3)
leg.get_texts()[0].set_color('#e8231d')
ftext(956, 739, 'Response (%)', fontsize=12.5, rotation=90)
ftext(1106, 838, 'Relative Humidity (%)', fontsize=12.5)

fig.savefig('out.png', dpi=100)
